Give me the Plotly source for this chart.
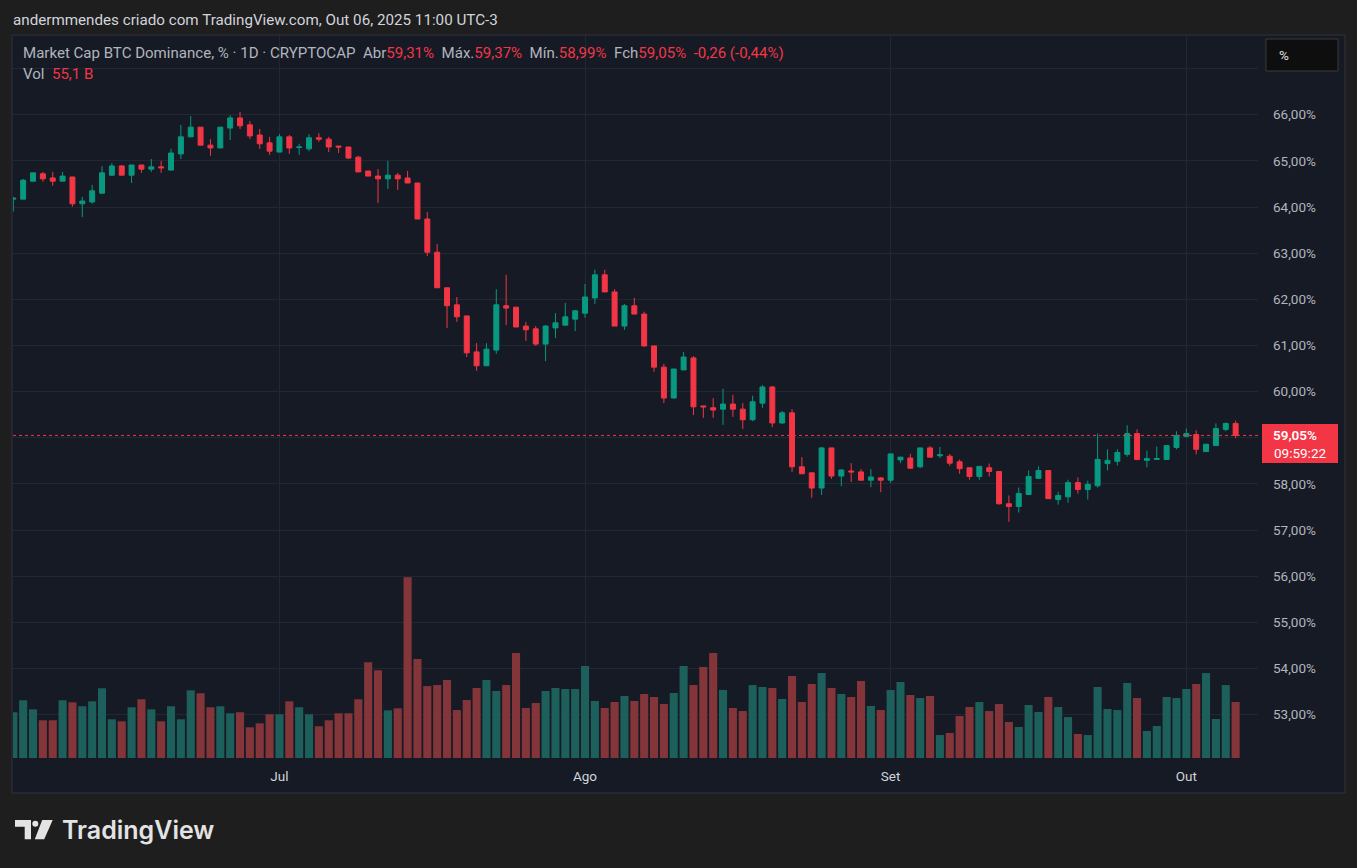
import pandas as pd
import plotly.graph_objects as go

# ---------------- data ----------------
start_date = "2025-06-04"
opens = [64.17, 64.17, 64.56, 64.72, 64.63, 64.56, 64.65, 64.07, 64.11, 64.30,
         64.69, 64.89, 64.69, 64.91, 64.82, 64.87, 64.80, 65.15, 65.52, 65.73,
         65.34, 65.28, 65.71, 65.93, 65.78, 65.56, 65.39, 65.19, 65.52, 65.29,
         65.26, 65.50, 65.47, 65.32, 65.30, 65.08, 64.78, 64.67, 64.61, 64.69,
         64.63, 64.52, 63.74, 63.02, 62.25, 61.88, 61.64, 60.86, 60.56, 60.90,
         61.86, 61.83, 61.42, 61.36, 61.03, 61.38, 61.44, 61.57, 61.70, 62.03,
         62.53, 62.16, 61.42, 61.86, 61.68, 60.99, 60.53, 59.86, 60.47, 60.73,
         59.69, 59.65, 59.62, 59.73, 59.62, 59.39, 59.75, 60.10, 59.32, 59.54,
         58.37, 58.24, 57.91, 58.78, 58.17, 58.28, 58.26, 58.08, 58.13, 58.08,
         58.52, 58.56, 58.37, 58.78, 58.61, 58.60, 58.48, 58.35, 58.16, 58.35,
         58.27, 57.57, 57.51, 57.77, 58.12, 58.29, 57.66, 57.72, 58.03, 57.88,
         57.96, 58.44, 58.49, 58.64, 59.09, 58.51, 58.53, 58.53, 58.79, 59.03,
         59.07, 58.70, 58.83, 59.18, 59.31]
highs = [64.22, 64.61, 64.74, 64.76, 64.76, 64.76, 64.65, 64.22, 64.48, 64.89,
         64.95, 64.91, 64.91, 64.91, 65.04, 65.00, 65.26, 65.78, 65.97, 65.73,
         65.47, 65.73, 65.99, 66.06, 65.86, 65.69, 65.52, 65.58, 65.56, 65.37,
         65.58, 65.60, 65.52, 65.32, 65.30, 65.11, 64.78, 64.82, 65.00, 64.74,
         64.78, 64.52, 63.89, 63.20, 62.25, 62.05, 61.64, 61.05, 61.05, 62.22,
         62.53, 61.83, 61.51, 61.42, 61.44, 61.70, 61.92, 61.77, 62.33, 62.64,
         62.64, 62.22, 61.90, 62.03, 61.73, 60.99, 60.60, 60.49, 60.86, 60.77,
         59.69, 59.86, 60.06, 59.93, 59.75, 59.91, 60.14, 60.12, 59.58, 59.62,
         58.58, 58.24, 58.80, 58.78, 58.32, 58.45, 58.32, 58.32, 58.15, 58.65,
         58.58, 58.65, 58.78, 58.82, 58.80, 58.65, 58.53, 58.35, 58.38, 58.44,
         58.27, 57.75, 57.92, 58.29, 58.38, 58.29, 57.83, 58.09, 58.14, 58.07,
         59.09, 58.75, 58.75, 59.27, 59.18, 58.72, 58.81, 58.83, 59.14, 59.20,
         59.16, 58.86, 59.31, 59.33, 59.37]
lows = [63.90, 64.17, 64.56, 64.55, 64.46, 64.56, 64.01, 63.78, 64.07, 64.30,
        64.67, 64.69, 64.52, 64.74, 64.76, 64.74, 64.80, 65.04, 65.52, 65.34,
        65.11, 65.28, 65.45, 65.69, 65.47, 65.26, 65.13, 65.19, 65.15, 65.13,
        65.21, 65.41, 65.19, 65.17, 65.04, 64.76, 64.67, 64.09, 64.39, 64.37,
        64.52, 63.74, 62.94, 62.25, 61.38, 61.51, 60.75, 60.45, 60.56, 60.82,
        61.44, 61.40, 61.10, 60.99, 60.66, 61.16, 61.44, 61.31, 61.60, 61.90,
        62.16, 61.42, 61.34, 61.68, 60.97, 60.43, 59.75, 59.86, 60.47, 59.49,
        59.43, 59.43, 59.28, 59.45, 59.19, 59.36, 59.65, 59.23, 59.30, 58.26,
        58.22, 57.70, 57.76, 58.11, 57.95, 58.04, 58.08, 57.93, 57.82, 58.02,
        58.45, 58.32, 58.34, 58.58, 58.56, 58.39, 58.22, 58.09, 58.09, 58.16,
        57.55, 57.18, 57.38, 57.77, 58.12, 57.68, 57.55, 57.59, 57.79, 57.66,
        57.92, 58.29, 58.40, 58.59, 58.51, 58.36, 58.53, 58.53, 58.75, 59.01,
        58.64, 58.70, 58.83, 59.14, 58.99]
closes = [64.19, 64.58, 64.74, 64.61, 64.56, 64.67, 64.07, 64.13, 64.35, 64.74,
          64.89, 64.69, 64.91, 64.82, 64.87, 64.85, 65.17, 65.52, 65.73, 65.34,
          65.28, 65.73, 65.93, 65.76, 65.54, 65.37, 65.21, 65.52, 65.28, 65.30,
          65.50, 65.47, 65.30, 65.30, 65.06, 64.76, 64.67, 64.61, 64.69, 64.61,
          64.52, 63.74, 63.02, 62.25, 61.86, 61.62, 60.84, 60.56, 60.92, 61.88,
          61.81, 61.40, 61.34, 61.03, 61.42, 61.49, 61.62, 61.75, 62.05, 62.53,
          62.16, 61.42, 61.86, 61.68, 60.99, 60.53, 59.86, 60.49, 60.75, 59.67,
          59.67, 59.60, 59.73, 59.62, 59.39, 59.78, 60.10, 59.32, 59.54, 58.37,
          58.22, 57.91, 58.78, 58.17, 58.30, 58.26, 58.08, 58.15, 58.08, 58.65,
          58.58, 58.34, 58.78, 58.58, 58.63, 58.45, 58.33, 58.16, 58.38, 58.27,
          57.57, 57.51, 57.79, 58.16, 58.29, 57.68, 57.75, 58.03, 57.88, 57.99,
          58.53, 58.51, 58.68, 59.09, 58.53, 58.55, 58.55, 58.83, 59.05, 59.09,
          58.75, 58.86, 59.20, 59.31, 59.05]
volumes_b = [45.0, 56.8, 47.9, 37.1, 37.1, 56.8, 54.8, 50.9, 55.8, 68.6,
             38.1, 36.1, 49.9, 57.8, 47.9, 36.1, 50.9, 38.1, 66.6, 63.7,
             49.9, 50.9, 44.0, 45.0, 30.2, 34.1, 43.0, 43.0, 55.8, 49.9,
             43.0, 31.2, 37.1, 44.0, 44.0, 57.8, 94.2, 86.3, 46.9, 48.9,
             177.8, 97.4, 70.8, 71.8, 76.8, 47.2, 57.1, 68.9, 76.8, 65.9,
             71.8, 103.3, 49.2, 54.1, 65.9, 68.9, 67.9, 67.9, 90.5, 56.1,
             49.2, 55.1, 61.0, 56.1, 63.0, 60.0, 53.1, 64.0, 90.5, 71.8,
             89.5, 103.3, 66.9, 49.2, 46.2, 71.8, 69.9, 68.9, 58.1, 80.7,
             55.1, 72.8, 83.6, 68.9, 63.0, 60.0, 75.8, 51.2, 47.2, 66.9,
             74.8, 62.0, 59.0, 61.0, 22.6, 24.6, 41.3, 50.2, 55.1, 46.2,
             53.1, 35.4, 30.5, 52.2, 45.3, 60.0, 50.2, 40.3, 23.6, 22.6,
             69.9, 48.2, 47.2, 73.8, 59.0, 26.6, 31.5, 60.0, 59.0, 67.9,
             72.8, 83.6, 38.4, 71.8, 55.1]
month_ticks = ["2025-07-01", "2025-08-01", "2025-09-01", "2025-10-01"]
month_labels = ["Jul", "Ago", "Set", "Out"]
price_ticks = list(range(53, 68))
hidden_ticks = [59, 67]   # covered by the price label / the % button
countdown = "09:59:22"

dates = pd.date_range(start_date, periods=len(opens), freq="D")

# ---------------- style ----------------
G = "#089981"
R = "#f23645"
GV = "#1c5f5b"
RV = "#843539"
OUTER = "#1e1e1e"
INNER = "#161a25"
GRID = "#232734"
TXT = "#b2b5be"
FONT = "Roboto, 'Liberation Sans', sans-serif"

W, H = 1357, 868
PL, PT, PR, PB = 13, 36, 1258, 758


def px(x):
    return (x - PL) / (PR - PL)


def py(y):
    return (PB - y) / (PB - PT)


def fmt(v, d=2):
    return f"{v:.{d}f}".replace(".", ",")


vol_colors = [GV if c >= o else RV for o, c in zip(opens, closes)]

fig = go.Figure()
fig.add_trace(go.Bar(x=dates, y=volumes_b, marker=dict(color=vol_colors, line=dict(width=0)),
                     yaxis="y2", hoverinfo="skip", showlegend=False))
fig.add_trace(go.Candlestick(
    x=dates, open=opens, high=highs, low=lows, close=closes,
    increasing=dict(line=dict(color=G, width=1), fillcolor=G),
    decreasing=dict(line=dict(color=R, width=1), fillcolor=R),
    whiskerwidth=0, showlegend=False, hoverinfo="skip"))

x0 = pd.Timestamp(start_date) + pd.Timedelta(days=-0.03)
x1 = pd.Timestamp(start_date) + pd.Timedelta(days=126.27)

# price range from pixel calibration (62% at y=299.3, 46.15 px per %)
y_top = 62 + (299.3 - PT) / 46.15
y_bot = 62 - (PB - 299.3) / 46.15

shapes = []
shapes.append(dict(type="rect", xref="paper", yref="paper", x0=px(12), x1=px(1345), y0=py(793), y1=py(35),
                   fillcolor=INNER, line=dict(color="#2e323d", width=1), layer="below"))
last_c = closes[-1]
shapes.append(dict(type="line", xref="paper", yref="y", x0=0, x1=1, y0=last_c, y1=last_c,
                   line=dict(color=R, width=1, dash="dot"), layer="above"))
shapes.append(dict(type="rect", xref="paper", yref="paper", x0=px(1266), x1=px(1338), y0=py(71), y1=py(39),
                   fillcolor="#0e0e0e", line=dict(color="#3a3a3a", width=1), layer="above"))
shapes.append(dict(type="rect", xref="paper", yref="paper", x0=px(1262), x1=px(1338), y0=py(463), y1=py(424),
                   fillcolor=R, line=dict(width=0), layer="above"))


def poly(pts):
    return "M " + " L ".join(f"{px(x)},{py(y)}" for x, y in pts) + " Z"


LOGO = "#e3e3e3"
shapes.append(dict(type="path", xref="paper", yref="paper",
                   path=poly([(15, 820), (31, 820), (31, 839.3), (24.7, 839.3), (24.7, 826.7), (15, 826.7)]),
                   fillcolor=LOGO, line=dict(width=0)))
shapes.append(dict(type="circle", xref="paper", yref="paper", x0=px(32.3), x1=px(38.3), y0=py(826.7), y1=py(820.7),
                   fillcolor=LOGO, line=dict(width=0)))
shapes.append(dict(type="path", xref="paper", yref="paper",
                   path=poly([(42.2, 820), (52.7, 820), (44.2, 839.3), (34.8, 839.3)]),
                   fillcolor=LOGO, line=dict(width=0)))

prev_c = closes[-2]
chg = last_c - prev_c
pct = chg / prev_c * 100
red = lambda s: f"<span style='color:{R}'>{s}</span>"
nb = "\u00a0"
legend = (f"Market Cap BTC Dominance, % · 1D · CRYPTOCAP{nb}{nb}Abr{red(fmt(opens[-1]) + '%')}{nb}{nb}"
          f"Máx.{red(fmt(highs[-1]) + '%')}{nb}{nb}Mín.{red(fmt(lows[-1]) + '%')}{nb}{nb}"
          f"Fch{red(fmt(closes[-1]) + '%')}{nb}{nb}{red(fmt(chg) + ' (' + fmt(pct) + '%)')}")

ann = []


def text(x, y, s, size=13, color=TXT, anchor="left", family=FONT, weight=None):
    f = dict(size=size, color=color, family=family)
    if weight:
        f["weight"] = weight
    ann.append(dict(xref="paper", yref="paper", x=px(x), y=py(y), text=s, showarrow=False,
                    xanchor=anchor, yanchor="middle", font=f))


text(11, 20, "andermmendes criado com TradingView.com, Out 06, 2025 11:00 UTC-3", size=15.2, color="#d1d4dc")
text(21, 53, legend, size=15.05, color=TXT)
text(21, 74, f"Vol{nb}{nb}{red(fmt(volumes_b[-1], 1) + ' B')}", size=15.05, color=TXT)
text(1277, 55, "%", size=13.5, color="#e0e0e0")
text(1271, 435, fmt(last_c) + "%", size=13.5, color="#ffffff", weight=600)
text(1272, 453, countdown, size=13.5, color="#ffffff")
text(60, 830, "TradingView", size=25, color=LOGO, family="Inter, 'Open Sans', sans-serif", weight=600)

fig.update_layout(
    width=W, height=H,
    margin=dict(l=PL, r=W - PR, t=PT, b=H - PB, pad=0),
    paper_bgcolor=OUTER, plot_bgcolor=INNER,
    bargap=0.18, boxgap=0.28,
    shapes=shapes, annotations=ann,
    font=dict(family=FONT, color=TXT, size=13),
    xaxis=dict(type="date", range=[x0, x1], tickvals=month_ticks, ticktext=month_labels,
               showgrid=True, gridcolor=GRID, gridwidth=1, zeroline=False, showline=False,
               ticks="", ticklabelstandoff=8, tickfont=dict(size=13.5, color="#d1d4dc"),
               rangeslider=dict(visible=False), fixedrange=True),
    yaxis=dict(side="right", range=[y_bot, y_top], tickvals=price_ticks,
               ticktext=["" if v in hidden_ticks else fmt(v) + "%" for v in price_ticks],
               showgrid=True, gridcolor=GRID, gridwidth=1, zeroline=False, showline=False,
               ticks="", ticklabelstandoff=14, tickfont=dict(size=13.5, color=TXT), fixedrange=True),
    yaxis2=dict(overlaying="y", range=[0, (PB - PT) / (56 / 55.1)], visible=False, fixedrange=True),
    showlegend=False,
)

fig.write_html("out.html")
